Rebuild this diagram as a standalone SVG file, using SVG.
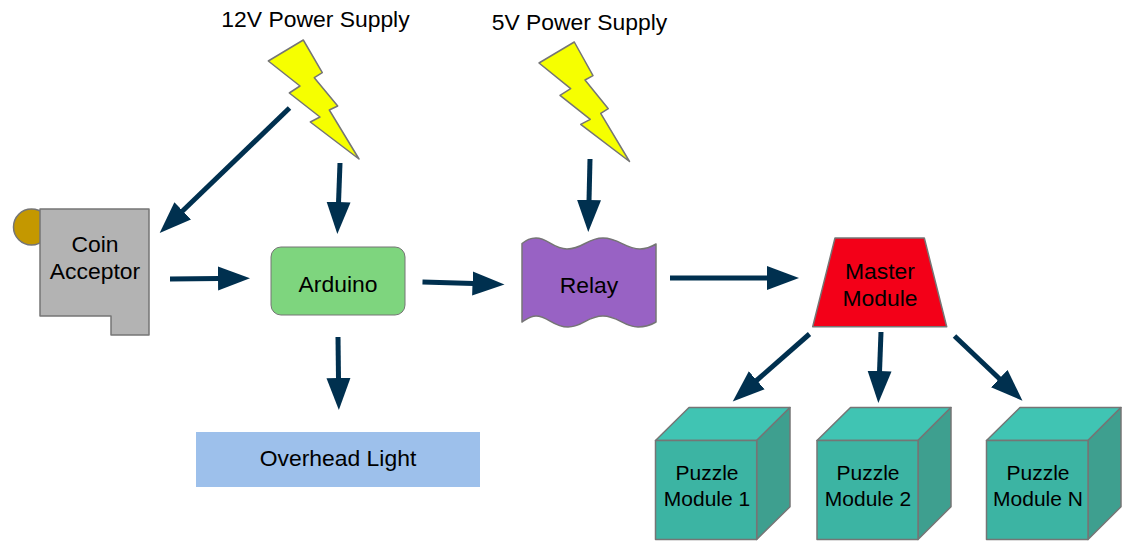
<svg xmlns="http://www.w3.org/2000/svg" width="1146" height="550" viewBox="0 0 1146 550">
<style>
text{font-family:"Liberation Sans",Arial,sans-serif;font-size:22.9px;fill:#000;text-anchor:middle}
.pz text{font-size:21px}
.s{stroke:#757575;stroke-width:1.5;stroke-linejoin:round}
.bolt{fill:#f6ff00}
.top{fill:#40c4b3}.front{fill:#3cb4a3}.side{fill:#3e9f8f}
#connectors line{stroke:#00304f;stroke-width:5;fill:none;marker-end:url(#arrow)}
</style>
<defs>
<marker id="arrow" markerUnits="userSpaceOnUse" markerWidth="33" markerHeight="25" refX="1" refY="12.5" orient="auto" viewBox="0 0 33 25"><path d="M0,0.5 L32,12.5 L0,24.5Z" fill="#00304f"/></marker>
</defs>
<rect width="1146" height="550" fill="#fff"/>
<g id="supply12">
<polygon class="s bolt" points="303.3,40 322.3,72.7 314.3,77.7 337.7,106 329.3,110 359,159 310.3,122 320,117 289.3,93 300,86 268.3,61"/>
<text x="315.5" y="27">12V Power Supply</text>
</g>
<g id="supply5">
<polygon class="s bolt" points="574.3,42 593,75.7 585,80 608.3,108.7 600.7,113.3 629.5,161.5 580.7,124.3 590.3,119.3 560,95.3 570.7,88.7 539,63"/>
<text x="579.5" y="30">5V Power Supply</text>
</g>
<g id="coin">
<circle class="s" cx="31.5" cy="227" r="18" fill="#c49800"/>
<path class="s" d="M40,209H149V335H111V316H40Z" fill="#b3b3b3"/>
<text x="95" y="252">Coin</text>
<text x="95" y="279">Acceptor</text>
</g>
<g id="arduino">
<rect class="s" x="271" y="247" width="134" height="68" rx="10" fill="#7ed57e" style="stroke-width:1"/>
<text x="338" y="292">Arduino</text>
</g>
<g id="light">
<rect x="196" y="432" width="284" height="55" fill="#9dc0eb"/>
<text x="338" y="466">Overhead Light</text>
</g>
<g id="relay">
<path class="s" d="M522,243.5 C527,240 530,238 536,238 C548,238 553,249 567,249 C583,249 587,238 603,238 C619,238 625,249 640,249 C647,249 651,247 656,244 V322 C651,325 647,327 638,327 C624,327 618,316 603,316 C587,316 583,327 568,327 C553,327 548,316 536,316 C530,316 527,319 522,322Z" fill="#9862c4"/>
<text x="589" y="293">Relay</text>
</g>
<g id="master">
<polygon class="s" points="835,238 924.3,238 946.7,326.7 812.7,326.7" fill="#f30018"/>
<text x="880" y="279">Master</text>
<text x="880" y="306">Module</text>
</g>
<g id="puzzle1" class="pz">
<polygon class="s top" points="655.5,440.5 689,407.5 790,407.5 756.7,440.5"/>
<polygon class="s side" points="756.7,440.5 790,407.5 790,506.7 756.7,539.5"/>
<rect class="s front" x="655.5" y="440.5" width="101.2" height="99"/>
<text x="707" y="480">Puzzle</text>
<text x="707" y="506">Module 1</text>
</g>
<g id="puzzle2" class="pz">
<polygon class="s top" points="817,440.5 850.5,407.5 951,407.5 918,440.5"/>
<polygon class="s side" points="918,440.5 951,407.5 951,506.7 918,539.5"/>
<rect class="s front" x="817" y="440.5" width="101" height="99"/>
<text x="868" y="480">Puzzle</text>
<text x="868" y="506">Module 2</text>
</g>
<g id="puzzleN" class="pz">
<polygon class="s top" points="986.5,440.5 1020,407.5 1121,407.5 1088,440.5"/>
<polygon class="s side" points="1088,440.5 1121,407.5 1121,506.7 1088,539.5"/>
<rect class="s front" x="986.5" y="440.5" width="101.5" height="99"/>
<text x="1038" y="480">Puzzle</text>
<text x="1038" y="506">Module N</text>
</g>
<g id="connectors">
<line x1="289.5" y1="108" x2="182" y2="211.5"/>
<line x1="340" y1="163" x2="338.5" y2="203"/>
<line x1="170" y1="279" x2="219" y2="278.5"/>
<line x1="338" y1="337" x2="338.5" y2="379"/>
<line x1="422.5" y1="282" x2="473.5" y2="283.6"/>
<line x1="590" y1="159" x2="589" y2="201"/>
<line x1="670" y1="278" x2="768" y2="278"/>
<line x1="809.5" y1="334" x2="756" y2="381"/>
<line x1="881" y1="332" x2="879.5" y2="372"/>
<line x1="954.5" y1="336" x2="1000" y2="379.3"/>
</g>
</svg>
